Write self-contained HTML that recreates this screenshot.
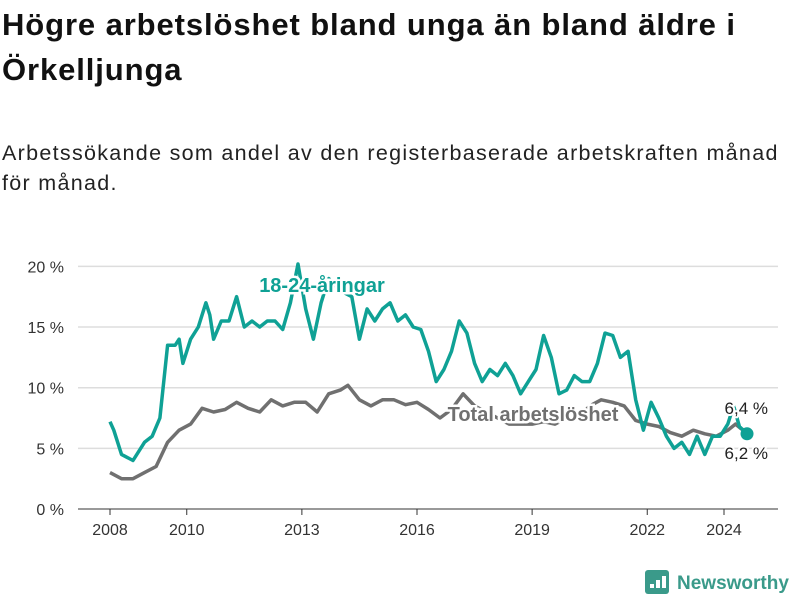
<!DOCTYPE html>
<html><head><meta charset="utf-8"><style>
body{margin:0;width:800px;height:600px;background:#fff;font-family:"Liberation Sans",sans-serif;overflow:hidden;position:relative}
h1{position:absolute;left:2px;top:2px;margin:0;font-size:31px;letter-spacing:0.9px;line-height:45px;font-weight:bold;color:#111;width:798px}
.sub{position:absolute;left:2px;top:138px;font-size:21.5px;letter-spacing:1.3px;line-height:30px;color:#222;width:798px;white-space:nowrap}
</style></head><body>
<h1>Högre arbetslöshet bland unga än bland äldre i Örkelljunga</h1>
<div class="sub">Arbetssökande som andel av den registerbaserade arbetskraften månad<br>för månad.</div>
<svg id="chart" width="800" height="600" style="position:absolute;left:0;top:0"></svg>
<script>
const yTicks=[0,5,10,15,20];
const xTicks=[2008,2010,2013,2016,2019,2022,2024];
const youthT=[2008.0,2008.1,2008.3,2008.6,2008.9,2009.1,2009.3,2009.5,2009.7,2009.8,2009.9,2010.1,2010.3,2010.5,2010.6,2010.7,2010.9,2011.1,2011.3,2011.5,2011.7,2011.9,2012.1,2012.3,2012.5,2012.7,2012.9,2013.1,2013.3,2013.5,2013.7,2014.0,2014.3,2014.5,2014.7,2014.9,2015.1,2015.3,2015.5,2015.7,2015.9,2016.1,2016.3,2016.5,2016.7,2016.9,2017.1,2017.3,2017.5,2017.7,2017.9,2018.1,2018.3,2018.5,2018.7,2018.9,2019.1,2019.3,2019.5,2019.7,2019.9,2020.1,2020.3,2020.5,2020.7,2020.9,2021.1,2021.3,2021.5,2021.7,2021.9,2022.1,2022.3,2022.5,2022.7,2022.9,2023.1,2023.3,2023.5,2023.7,2023.9,2024.1,2024.25,2024.4,2024.5,2024.6];
const youthV=[7.2,6.5,4.5,4.0,5.5,6.0,7.5,13.5,13.5,14.0,12.0,14.0,15.0,17.0,16.0,14.0,15.5,15.5,17.5,15.0,15.5,15.0,15.5,15.5,14.8,17.0,20.2,16.5,14.0,17.0,19.0,18.0,17.5,14.0,16.5,15.5,16.5,17.0,15.5,16.0,15.0,14.8,13.0,10.5,11.5,13.0,15.5,14.5,12.0,10.5,11.5,11.0,12.0,11.0,9.5,10.5,11.5,14.3,12.5,9.5,9.8,11.0,10.5,10.5,12.0,14.5,14.3,12.5,13.0,9.0,6.5,8.8,7.5,6.0,5.0,5.5,4.5,6.0,4.5,6.0,6.0,7.0,8.5,6.8,6.5,6.2];
const totalT=[2008.0,2008.3,2008.6,2008.9,2009.2,2009.5,2009.8,2010.1,2010.4,2010.7,2011.0,2011.3,2011.6,2011.9,2012.2,2012.5,2012.8,2013.1,2013.4,2013.7,2014.0,2014.2,2014.5,2014.8,2015.1,2015.4,2015.7,2016.0,2016.3,2016.6,2016.9,2017.2,2017.5,2017.8,2018.1,2018.4,2018.7,2019.0,2019.3,2019.6,2019.9,2020.2,2020.5,2020.8,2021.1,2021.4,2021.7,2022.0,2022.3,2022.6,2022.9,2023.2,2023.5,2023.8,2024.1,2024.3,2024.45,2024.6];
const totalV=[3.0,2.5,2.5,3.0,3.5,5.5,6.5,7.0,8.3,8.0,8.2,8.8,8.3,8.0,9.0,8.5,8.8,8.8,8.0,9.5,9.8,10.2,9.0,8.5,9.0,9.0,8.6,8.8,8.2,7.5,8.2,9.5,8.5,8.0,7.5,7.0,7.0,7.0,7.2,7.0,7.5,7.5,8.5,9.0,8.8,8.5,7.3,7.0,6.8,6.3,6.0,6.5,6.2,6.0,6.5,7.0,6.6,6.4];
const svg=document.getElementById('chart');const NS='http://www.w3.org/2000/svg';
const X=t=>110+(t-2008)*38.375, Y=v=>509-v*12.13;
function mk(tag,attrs,txt){const e=document.createElementNS(NS,tag);for(const k in attrs)e.setAttribute(k,attrs[k]);if(txt!==undefined)e.textContent=txt;svg.appendChild(e);return e;}
yTicks.forEach(v=>{
 const l=mk('line',{x1:78,x2:778,y1:Y(v),y2:Y(v),stroke:v===0?'#333':'#ddd','stroke-width':v===0?1:1.5});
 
 
 const t=mk('text',{x:64,y:Y(v)+6,'text-anchor':'end','font-size':16,fill:'#333','font-family':'Liberation Sans'},v+' %');
 
 
});
xTicks.forEach(y=>{
 const l=mk('line',{x1:X(y),x2:X(y),y1:509,y2:515,stroke:'#333'});
 
 
 const t=mk('text',{x:X(y),y:535,'text-anchor':'middle','font-size':16,fill:'#333','font-family':'Liberation Sans'},y);
 
 
});
function line(T,V,col,name){const d=T.map((t,i)=>(i?'L':'M')+X(t).toFixed(1)+','+Y(V[i]).toFixed(1)).join('');
 const p=mk('path',{d:d,fill:'none',stroke:col,'stroke-width':3.5,'stroke-linejoin':'round'});
 
 }
line(totalT,totalV,'#707070','total-line');
line(youthT,youthV,'#0fa195','youth-line');
const dot=mk('circle',{cx:X(youthT[youthT.length-1]),cy:Y(youthV[youthV.length-1]),r:6.5,fill:'#0fa195'});


function lab(x,y,txt,col,name,anchor,bold){
 const t=mk('text',{x:x,y:y,'text-anchor':anchor,'font-size':bold?20:17,'font-weight':bold?'bold':'normal',fill:col,stroke:'#fff','stroke-width':bold?5:4,'paint-order':'stroke','font-family':'Liberation Sans'},txt);
 
 }
lab(322,292,'18-24-åringar','#0fa195','youth-series-label','middle',true);
lab(533,421,'Total arbetslöshet','#707070','total-series-label','middle',true);
lab(768,414,'6,4 %','#222','total-end-value','end',false);
lab(768,459,'6,2 %','#222','youth-end-value','end',false);
const g=mk('g',{});
const r=document.createElementNS(NS,'rect');[['x',645],['y',570],['width',24],['height',24],['rx',3],['fill','#3a9a8a']].forEach(a=>r.setAttribute(a[0],a[1]));g.appendChild(r);
[[650,584,4],[656,580,8],[662,576,12]].forEach(b=>{const q=document.createElementNS(NS,'rect');q.setAttribute('x',b[0]);q.setAttribute('y',b[1]);q.setAttribute('width',4);q.setAttribute('height',b[2]);q.setAttribute('fill','#fff');g.appendChild(q);});
const lt=document.createElementNS(NS,'text');lt.setAttribute('x',677);lt.setAttribute('y',589);lt.setAttribute('font-size',19);lt.setAttribute('font-weight','bold');lt.setAttribute('fill','#3a9a8a');lt.setAttribute('font-family','Liberation Sans');lt.textContent='Newsworthy';g.appendChild(lt);
</script>
</body></html>
